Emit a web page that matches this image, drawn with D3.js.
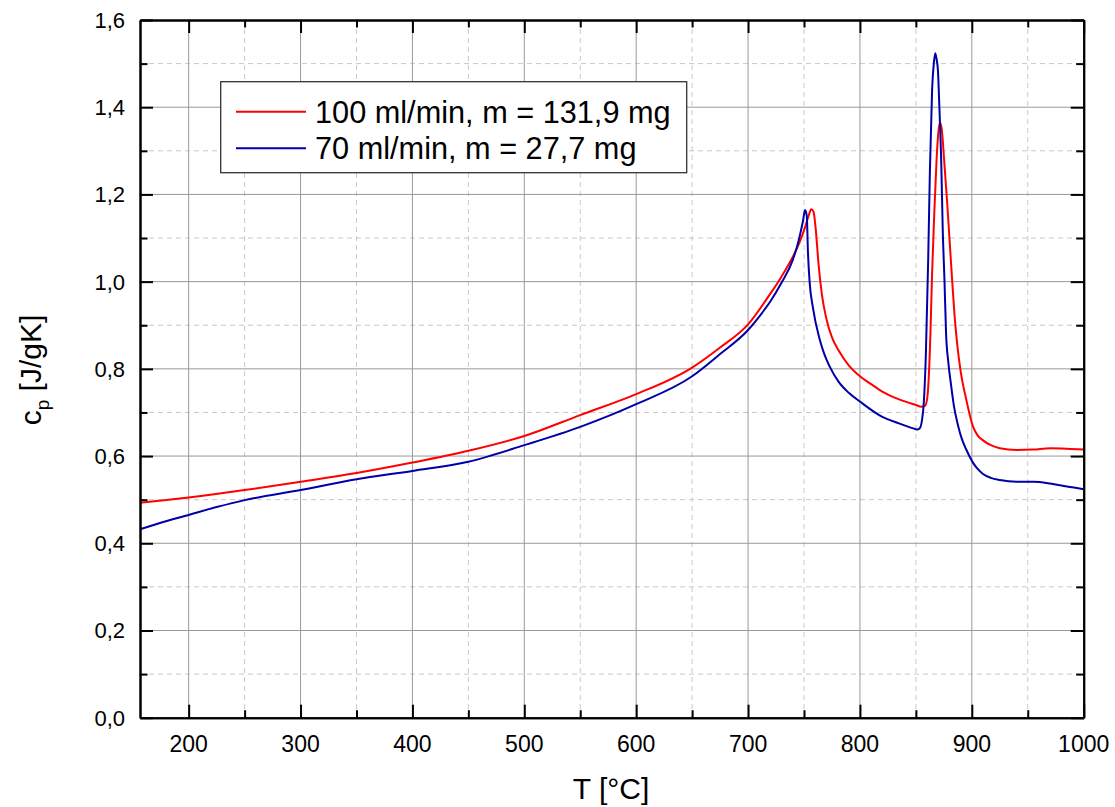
<!DOCTYPE html>
<html>
<head>
<meta charset="utf-8">
<script src="https://cdn.jsdelivr.net/npm/d3@7"></script>
<style>
  html, body { margin: 0; padding: 0; background: #fff; }
  svg { display: block; font-family: "Liberation Sans", Arial, sans-serif; }
</style>
</head>
<body>
<svg id="chart" width="1115" height="807"></svg>
<script>
// ---- data ----
const redLabel = "100 ml/min, m = 131,9 mg";
const blueLabel = "70 ml/min, m = 27,7 mg";

const redT = [156.5, 180, 200, 250, 300, 350, 400, 450, 500, 550, 600, 650, 675, 700, 719, 730, 740, 746, 751, 754, 756.5, 758.5, 760.5, 763, 766, 770, 775, 781, 790, 800, 810, 820, 835, 850, 855, 858, 860, 861.5, 863, 864.5, 866.5, 868.5, 870.2, 871.5, 873, 875.5, 878, 880, 882.5, 884.5, 887, 890, 895, 901, 905, 910, 917, 925, 940, 955, 970, 985, 1000];
const redCp = [0.493, 0.499, 0.505, 0.522, 0.541, 0.561, 0.585, 0.612, 0.646, 0.694, 0.742, 0.803, 0.849, 0.902, 0.969, 1.012, 1.057, 1.09, 1.125, 1.15, 1.166, 1.16, 1.12, 1.04, 0.97, 0.915, 0.872, 0.842, 0.808, 0.783, 0.765, 0.748, 0.730, 0.717, 0.713, 0.715, 0.73, 0.78, 0.88, 1.02, 1.16, 1.28, 1.345, 1.365, 1.352, 1.27, 1.18, 1.10, 1.00, 0.925, 0.855, 0.795, 0.730, 0.668, 0.648, 0.636, 0.625, 0.618, 0.614, 0.615, 0.618, 0.617, 0.615];

const blueT = [156.5, 175, 200, 225, 250, 300, 350, 400, 450, 500, 550, 600, 650, 675, 700, 710, 720, 730, 740, 745, 749, 751, 752.5, 753.5, 755, 758, 764, 768, 773, 781, 790, 800, 820, 835, 847, 851, 853.5, 855.5, 857, 859, 861, 862.5, 864.5, 866, 867.3, 868.5, 869.7, 871, 872.7, 874, 875.6, 877, 879, 881.6, 884, 887.5, 891, 895, 901, 905, 910, 917, 925, 940, 955, 970, 985, 1000];
const blueCp = [0.432, 0.447, 0.465, 0.483, 0.499, 0.522, 0.547, 0.566, 0.587, 0.625, 0.667, 0.719, 0.783, 0.834, 0.889, 0.92, 0.955, 0.998, 1.05, 1.092, 1.138, 1.164, 1.15, 1.07, 1.00, 0.94, 0.868, 0.835, 0.805, 0.770, 0.745, 0.725, 0.690, 0.675, 0.664, 0.661, 0.664, 0.683, 0.72, 0.84, 1.05, 1.25, 1.44, 1.50, 1.524, 1.51, 1.485, 1.40, 1.27, 1.12, 1.00, 0.88, 0.815, 0.76, 0.715, 0.672, 0.64, 0.615, 0.585, 0.571, 0.559, 0.550, 0.545, 0.541, 0.541, 0.537, 0.530, 0.524];

const xMajorTicks = [200, 300, 400, 500, 600, 700, 800, 900, 1000];
const xMinorTicks = [250, 350, 450, 550, 650, 750, 850, 950];
const yMajorTicks = [0, 0.2, 0.4, 0.6, 0.8, 1.0, 1.2, 1.4, 1.6];
const yMinorTicks = [0.1, 0.3, 0.5, 0.7, 0.9, 1.1, 1.3, 1.5];
const xDomain = [156.5, 1000];
const yDomain = [0, 1.6];

// ---- layout ----
const L = 140, R = 1083.7, T = 20, B = 717.7;
const svg = d3.select("#chart");
const x = d3.scaleLinear().domain(xDomain).range([L, R]);
const y = d3.scaleLinear().domain(yDomain).range([B, T]);
const fmt = v => d3.format(".1f")(v).replace(".", ",");

// grid
const grid = svg.append("g");
grid.selectAll(".xminor").data(xMinorTicks).enter().append("line")
  .attr("x1", d => x(d)).attr("x2", d => x(d)).attr("y1", T).attr("y2", B)
  .attr("stroke", "#c8c8c8").attr("stroke-width", 1).attr("stroke-dasharray", "5,4");
grid.selectAll(".yminor").data(yMinorTicks).enter().append("line")
  .attr("y1", d => y(d)).attr("y2", d => y(d)).attr("x1", L).attr("x2", R)
  .attr("stroke", "#c8c8c8").attr("stroke-width", 1).attr("stroke-dasharray", "5,4");
grid.selectAll(".xmajor").data(xMajorTicks.filter(d => d < 1000)).enter().append("line")
  .attr("x1", d => x(d)).attr("x2", d => x(d)).attr("y1", T).attr("y2", B)
  .attr("stroke", "#999").attr("stroke-width", 1);
grid.selectAll(".ymajor").data(yMajorTicks.filter(d => d > 0 && d < 1.6)).enter().append("line")
  .attr("y1", d => y(d)).attr("y2", d => y(d)).attr("x1", L).attr("x2", R)
  .attr("stroke", "#999").attr("stroke-width", 1);

// curves
const line = d3.line().curve(d3.curveMonotoneX).x(d => x(d[0])).y(d => y(d[1]));
svg.append("path").datum(redT.map((t, i) => [t, redCp[i]]))
  .attr("d", line).attr("fill", "none").attr("stroke", "#ff0000").attr("stroke-width", 2);
svg.append("path").datum(blueT.map((t, i) => [t, blueCp[i]]))
  .attr("d", line).attr("fill", "none").attr("stroke", "#0000a8").attr("stroke-width", 2);

// axes (all four sides, ticks inward)
const majorLen = 13, minorLen = 7.5;
const axB = svg.append("g").attr("transform", `translate(0,${B})`)
  .call(d3.axisBottom(x).tickValues(xMajorTicks).tickSize(-majorLen).tickSizeOuter(0).tickPadding(0).tickFormat(""));
const axBm = svg.append("g").attr("transform", `translate(0,${B})`)
  .call(d3.axisBottom(x).tickValues(xMinorTicks).tickSize(-minorLen).tickSizeOuter(0).tickFormat(""));
const axT = svg.append("g").attr("transform", `translate(0,${T})`)
  .call(d3.axisTop(x).tickValues(xMajorTicks).tickSize(-majorLen).tickSizeOuter(0).tickFormat(""));
const axTm = svg.append("g").attr("transform", `translate(0,${T})`)
  .call(d3.axisTop(x).tickValues(xMinorTicks).tickSize(-minorLen).tickSizeOuter(0).tickFormat(""));
const axL = svg.append("g").attr("transform", `translate(${L},0)`)
  .call(d3.axisLeft(y).tickValues(yMajorTicks).tickSize(-majorLen).tickSizeOuter(0).tickFormat(""));
const axLm = svg.append("g").attr("transform", `translate(${L},0)`)
  .call(d3.axisLeft(y).tickValues(yMinorTicks).tickSize(-minorLen).tickSizeOuter(0).tickFormat(""));
const axR = svg.append("g").attr("transform", `translate(${R},0)`)
  .call(d3.axisRight(y).tickValues(yMajorTicks).tickSize(-majorLen).tickSizeOuter(0).tickFormat(""));
const axRm = svg.append("g").attr("transform", `translate(${R},0)`)
  .call(d3.axisRight(y).tickValues(yMinorTicks).tickSize(-minorLen).tickSizeOuter(0).tickFormat(""));
[axB, axBm, axT, axTm, axL, axLm, axR, axRm].forEach(g => {
  g.selectAll(".domain").attr("stroke", "#000").attr("stroke-width", 2);
  g.selectAll(".tick line").attr("stroke", "#000").attr("stroke-width", 2);
});

// tick labels
svg.append("g").selectAll("text").data(xMajorTicks).enter().append("text")
  .attr("x", d => x(d)).attr("y", 751.5).attr("text-anchor", "middle")
  .attr("font-size", 23).attr("fill", "#000").text(d => d);
svg.append("g").selectAll("text").data(yMajorTicks).enter().append("text")
  .attr("x", 125).attr("y", d => y(d)).attr("dy", "0.36em").attr("text-anchor", "end")
  .attr("font-size", 22).attr("fill", "#000").text(d => fmt(d));

// axis titles
svg.append("text").attr("x", 611).attr("y", 799).attr("text-anchor", "middle")
  .attr("font-size", 30).attr("fill", "#000").text("T [°C]");
const yt = svg.append("text").attr("transform", "translate(41,370) rotate(-90)")
  .attr("text-anchor", "middle").attr("font-size", 30).attr("fill", "#000");
yt.append("tspan").text("c");
yt.append("tspan").attr("font-size", 19).attr("dy", 8).text("p");
yt.append("tspan").attr("dy", -8).text(" [J/gK]");

// legend
const lg = svg.append("g");
lg.append("rect").attr("x", 220.7).attr("y", 81.7).attr("width", 466).attr("height", 91)
  .attr("fill", "#fff").attr("stroke", "#333").attr("stroke-width", 1.3);
const items = [[redLabel, "#ff0000", 111.7], [blueLabel, "#0000a8", 148.3]];
items.forEach(([lab, col, yy]) => {
  lg.append("line").attr("x1", 236).attr("x2", 306).attr("y1", yy).attr("y2", yy)
    .attr("stroke", col).attr("stroke-width", 2);
  lg.append("text").attr("x", 315).attr("y", yy + 11).attr("font-size", 30.7)
    .attr("fill", "#000").text(lab);
});
</script>
</body>
</html>
